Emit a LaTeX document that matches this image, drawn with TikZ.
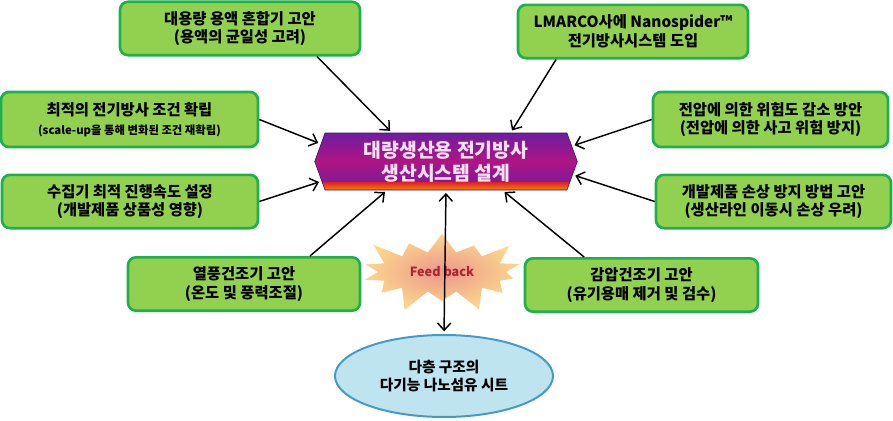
\documentclass[tikz,border=0pt]{standalone}
\usepackage{fontspec}
\setmainfont{Noto Sans CJK KR}
\usepackage{tikz}
\usetikzlibrary{shapes.symbols,shapes.geometric,arrows.meta}

\definecolor{boxfill}{RGB}{146,208,80}
\definecolor{boxline}{RGB}{30,176,76}
\definecolor{hexpurple}{RGB}{110,30,160}
\definecolor{hexmagenta}{RGB}{175,20,130}
\definecolor{hexred}{RGB}{225,30,40}
\definecolor{hexorange}{RGB}{245,130,0}
\definecolor{hextext}{RGB}{250,225,245}
\definecolor{burstin}{RGB}{235,150,140}
\definecolor{burstout}{RGB}{252,215,140}
\definecolor{fbtext}{RGB}{170,40,50}
\definecolor{ellfill}{RGB}{190,228,240}
\definecolor{ellline}{RGB}{70,155,195}

\begin{document}
\begin{tikzpicture}[x=0.75pt, y=-0.75pt,
    greenbox/.style={rectangle, rounded corners=6pt, draw=boxline, line width=2pt, fill=boxfill,
        minimum height=40pt, inner sep=0pt, align=center, font=\bfseries\fontsize{11.5}{14}\selectfont},
    arr/.style={-{Straight Barb[length=5.5pt,width=10pt]}, line width=1.1pt, shorten >=2pt},
    arrbi/.style={{Straight Barb[length=5.5pt,width=10pt]}-{Straight Barb[length=5.5pt,width=10pt]},
        line width=1.1pt, shorten >=2pt, shorten <=2pt}]

        \useasboundingbox (0,0) rectangle (893,421);

        % Riquadri
        \node[greenbox, minimum width=180pt] (mixer) at (240,28.5) {대용량 용액 혼합기 고안\\(용액의 균일성 고려)};
        \node[greenbox, minimum width=192.75pt, minimum height=41.25pt] (spinopt) at (129.5,119.5)
            {최적의 전기방사 조건 확립\\{\fontsize{8.5}{11}\selectfont (scale-up을 통해 변화된 조건 재확립)}};
        \node[greenbox, minimum width=192pt] (collector) at (130,201.5) {수집기 최적 진행속도 설정\\(개발제품 상품성 영향)};
        \node[greenbox, minimum width=174pt] (hotair) at (244,284) {열풍건조기 고안\\(온도 및 풍력조절)};
        \node[greenbox, minimum width=172.5pt] (nanospider) at (633,31.5) {LMARCO사에 Nanospider™\\전기방사시스템 도입};
        \node[greenbox, minimum width=176.25pt, minimum height=41.25pt] (voltage) at (770.5,119.5)
            {전압에 의한 위험도 감소 방안\\(전압에 의한 사고 위험 방지)};
        \node[greenbox, minimum width=176.25pt] (damage) at (773.5,201.5) {개발제품 손상 방지 방법 고안\\(생산라인 이동시 손상 우려)};
        \node[greenbox, minimum width=174.75pt] (vacuum) at (641.5,285) {감압건조기 고안\\(유기용매 제거 및 검수)};

        % Centro
        \node[signal, signal to=west and east, signal pointer angle=140, draw=hexpurple!60!black,
            minimum width=197pt, minimum height=42.75pt, inner sep=0pt, align=center, text=hextext,
            font=\bfseries\fontsize{14.5}{17}\selectfont,
            path picture={
                \shade[top color=hexpurple, bottom color=hexpurple, middle color=hexmagenta]
                    (path picture bounding box.north west) rectangle ([yshift=6pt]path picture bounding box.south east);
                \shade[top color=hexred, bottom color=hexorange]
                    ([yshift=6pt]path picture bounding box.south west) rectangle (path picture bounding box.south east);
            }] (hex) at (446,161.5) {대량생산용 전기방사\\생산시스템 설계};

        \node[starburst, starburst points=14, starburst point height=19pt, inner color=burstin, outer color=burstout,
            minimum width=134pt, minimum height=68pt, inner sep=0pt, text=fbtext,
            font=\bfseries\fontsize{9.5}{11}\selectfont] (burst) at (442,272) {Feed back};

        \node[ellipse, draw=ellline, line width=1.5pt, fill=ellfill, minimum width=163.5pt, minimum height=61.5pt,
            align=center, font=\bfseries\fontsize{11}{14}\selectfont] (sheet) at (444,376) {다층 구조의\\다기능 나노섬유 시트};

        % Frecce
        \draw[arr] (mixer.-20) -- (hex.152);
        \draw[arr] (spinopt.east) -- (hex.172);
        \draw[arr] (collector.east) -- (hex.-171);
        \draw[arr] (hotair.23) -- (hex.-154);
        \draw[arr] (nanospider.200) -- (hex.24);
        \draw[arr] (voltage.west) -- (hex.7);
        \draw[arr] (damage.west) -- (hex.-6);
        \draw[arr] (vacuum.154) -- (hex.-27);
        \draw[arrbi] (hex.south) -- (sheet.north); % feed back

    \end{tikzpicture}
\end{document}
